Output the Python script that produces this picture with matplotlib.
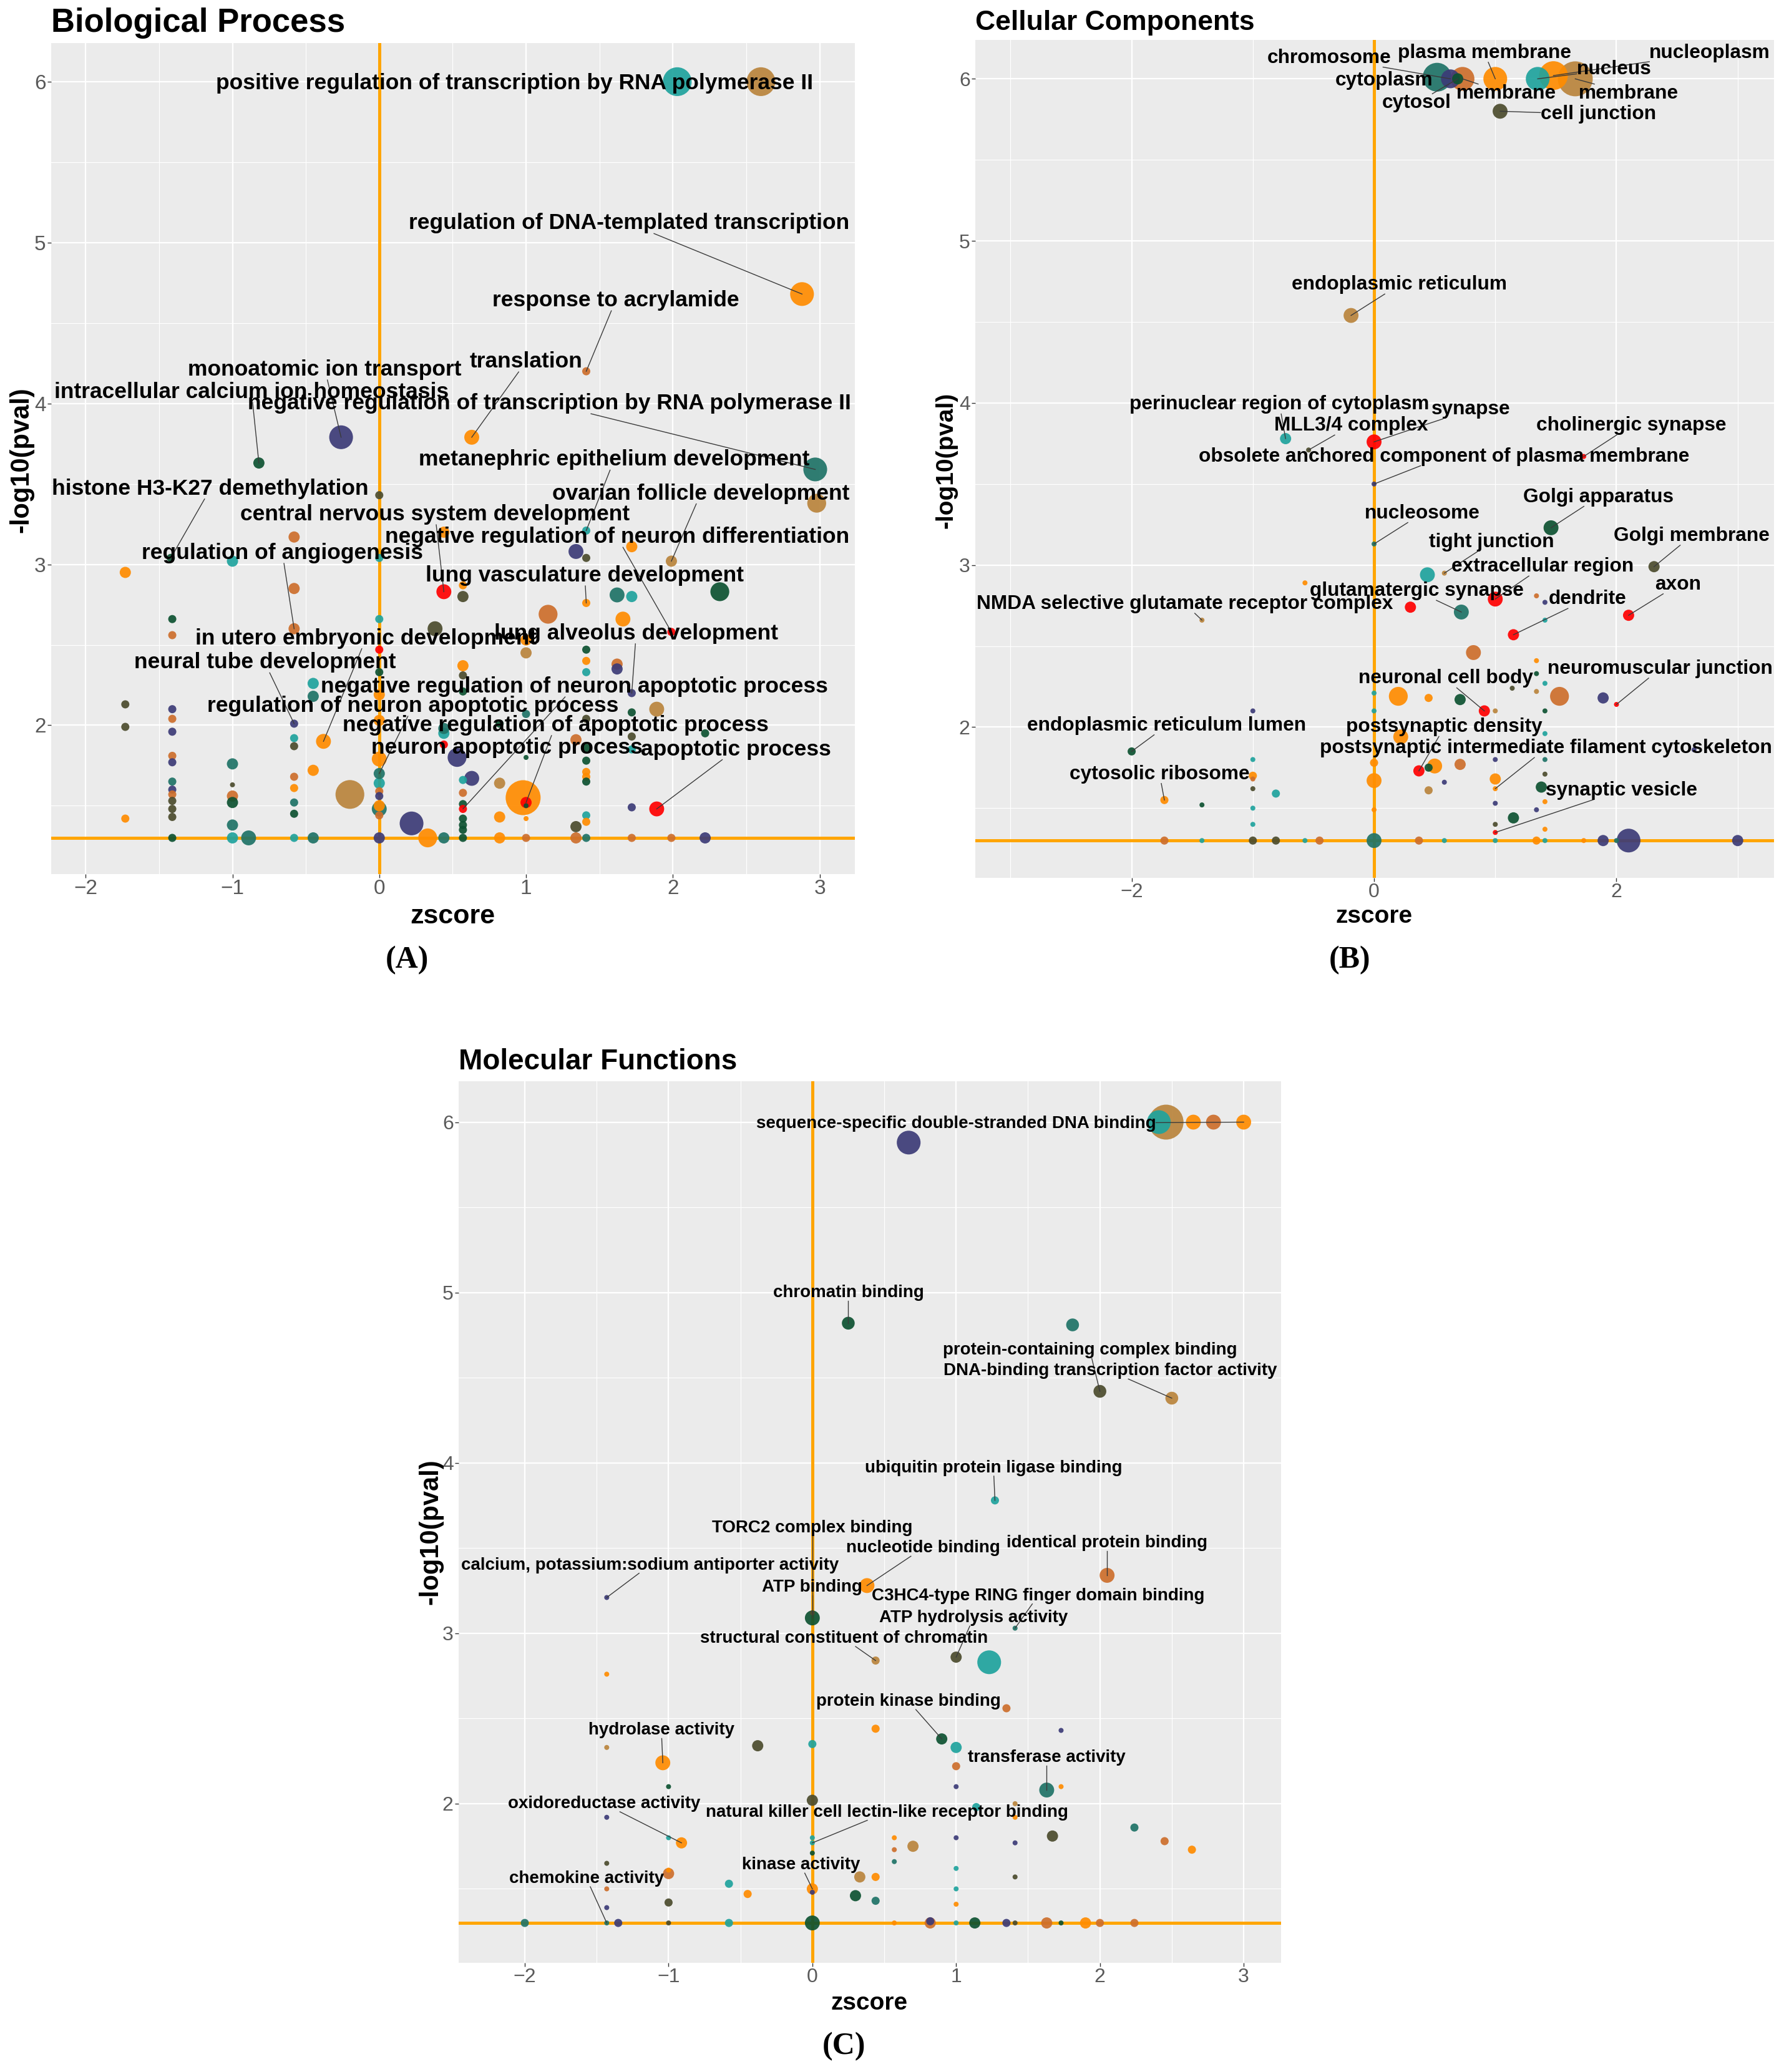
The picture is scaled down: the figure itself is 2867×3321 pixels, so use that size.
import matplotlib
matplotlib.use("Agg")
import matplotlib.pyplot as plt
from matplotlib.ticker import MultipleLocator
import numpy as np

plt.rcParams['font.family'] = ['Liberation Sans', 'DejaVu Sans']
plt.rcParams['axes.unicode_minus'] = True

W, H = 2867, 3321
DPI = 100

# colour keys used by the terms
palette = {'te': '#1FA39D', 'dt': '#1F7367', 'dg': '#0D5231', 'ol': '#4B4B2D',
           'nv': '#3C3B77', 'gd': '#B9843C', 'or': '#FF8C00', 'ch': '#CD6E2C',
           'rd': '#FF0000'}

# ---------------- (A) Biological Process ----------------
bp_terms = ["positive regulation of transcription by RNA polymerase II",
            "regulation of DNA-templated transcription",
            "response to acrylamide",
            "translation",
            "monoatomic ion transport",
            "intracellular calcium ion homeostasis",
            "negative regulation of transcription by RNA polymerase II",
            "metanephric epithelium development",
            "histone H3-K27 demethylation",
            "ovarian follicle development",
            "central nervous system development",
            "negative regulation of neuron differentiation",
            "regulation of angiogenesis",
            "lung vasculature development",
            "in utero embryonic development",
            "lung alveolus development",
            "neural tube development",
            "negative regulation of neuron apoptotic process",
            "regulation of neuron apoptotic process",
            "negative regulation of apoptotic process",
            "neuron apoptotic process",
            "apoptotic process"]
bp_term_z = [2.03, 2.88, 1.41, 0.63, -0.26, -0.82, 2.97, 1.41, -1.42, 1.99, 0.44,
             1.99, -0.58, 1.41, -0.38, 1.72, -0.58, 0.57, 0.00, 1.00, 0.44, 1.89]
bp_term_p = [6.00, 4.68, 4.20, 3.79, 3.79, 3.63, 3.59, 3.21, 3.04, 3.02, 2.83,
             2.58, 2.60, 2.76, 1.90, 2.20, 2.01, 1.48, 1.70, 1.52, 1.88, 1.48]
bp_term_n = [43, 29, 3, 11, 29, 6, 29, 3, 3, 6, 11, 3, 6, 3, 11, 3, 3, 3, 6, 6, 3, 11]
bp_term_col = ['te', 'or', 'ch', 'or', 'nv', 'dg', 'dt', 'te', 'dg', 'gd', 'rd',
               'rd', 'ch', 'or', 'or', 'nv', 'nv', 'rd', 'dt', 'rd', 'rd', 'rd']
# label placement (text centre, data coords)
bp_text_pos = [(0.92, 5.99), (1.70, 5.12), (1.61, 4.64), (1.00, 4.26), (-0.37, 4.21),
               (-0.87, 4.07), (1.16, 4.00), (1.60, 3.65), (-1.15, 3.47), (2.19, 3.44),
               (0.38, 3.31), (1.62, 3.17), (-0.66, 3.07), (1.40, 2.93), (-0.09, 2.54),
               (1.75, 2.57), (-0.78, 2.39), (1.33, 2.24), (0.23, 2.12), (1.20, 2.00),
               (0.87, 1.86), (2.43, 1.85)]

bp_z = [2.60, 0.00, 2.98, -0.58, 0.44, 1.34, 1.41, 1.72, -1.00, -1.73,
        0.00, -0.58, 0.57, 0.57, 1.62, 1.72, 2.32, 1.15, 1.66, -1.41,
        0.00, 0.38, -1.41, 1.00, 0.00, 1.41, 1.00, 0.57, 1.41, 1.62,
        1.62, 1.41, 0.57, 0.00, -0.45, -0.45, 0.57, 1.89, 1.72, -1.73,
        -1.73, -1.41, -1.41, -1.41, -1.41, -1.41, -1.41, -1.41, -1.41, -1.41,
        -1.41, -1.41, -1.41, -1.00, -1.00, -1.00, -1.00, -1.00, -1.00, -0.89,
        -0.58, -0.58, -0.58, -0.58, -0.58, -0.58, -0.58, -0.45, -0.20, -0.45,
        0.00, 0.00, 0.00, 0.00, 0.00, 0.00, 0.00, 0.00, 0.00, 0.00,
        0.22, 0.33, 0.44, 0.44, 0.44, 0.53, 0.63, 0.57, 0.57, 0.57,
        0.57, 0.57, 0.57, 0.57, 0.82, 0.82, 0.82, 0.82, 0.98, 1.00,
        1.00, 1.00, 1.00, 1.00, 1.34, 1.34, 1.34, 1.41, 1.41, 1.41,
        1.41, 1.41, 1.41, 1.41, 1.41, 1.41, 1.72, 1.72, 1.72, 2.22,
        1.72, 1.99, 2.22, -1.73]
bp_p = [6.00, 3.43, 3.38, 3.17, 3.20, 3.08, 3.04, 3.11, 3.02, 2.95,
        3.04, 2.85, 2.87, 2.80, 2.81, 2.80, 2.83, 2.69, 2.66, 2.66,
        2.66, 2.60, 2.56, 2.53, 2.47, 2.47, 2.45, 2.37, 2.40, 2.38,
        2.35, 2.33, 2.31, 2.33, 2.26, 2.18, 2.21, 2.10, 2.08, 2.13,
        1.99, 2.10, 2.04, 1.96, 1.81, 1.77, 1.65, 1.60, 1.57, 1.53,
        1.48, 1.43, 1.30, 1.76, 1.63, 1.56, 1.52, 1.38, 1.30, 1.30,
        1.92, 1.87, 1.68, 1.61, 1.52, 1.45, 1.30, 1.72, 1.57, 1.30,
        2.19, 2.03, 1.79, 1.64, 1.59, 1.56, 1.50, 1.48, 1.44, 1.30,
        1.39, 1.30, 1.30, 1.95, 1.98, 1.80, 1.67, 1.66, 1.58, 1.51,
        1.42, 1.38, 1.35, 1.30, 1.64, 1.43, 1.30, 2.01, 1.55, 1.50,
        1.42, 1.30, 2.07, 1.80, 1.37, 1.30, 1.91, 1.86, 1.78, 1.71,
        1.68, 1.65, 1.44, 1.40, 1.30, 2.04, 1.49, 1.93, 1.85, 1.95,
        1.30, 1.30, 1.30, 1.42]
bp_n = [43, 3, 18, 6, 6, 11, 3, 6, 6, 6,
        3, 6, 3, 6, 11, 6, 18, 18, 11, 3,
        3, 11, 3, 6, 3, 3, 6, 6, 3, 6,
        6, 3, 3, 3, 6, 6, 3, 11, 3, 3,
        3, 3, 3, 3, 3, 3, 3, 3, 3, 3,
        3, 3, 3, 6, 1, 6, 6, 6, 6, 11,
        3, 3, 3, 3, 3, 3, 3, 6, 43, 6,
        6, 6, 11, 6, 3, 3, 6, 11, 3, 6,
        29, 18, 6, 6, 6, 18, 11, 3, 3, 3,
        3, 3, 3, 3, 6, 6, 6, 3, 64, 1,
        1, 3, 3, 1, 6, 6, 6, 3, 3, 3,
        3, 3, 3, 3, 3, 3, 3, 3, 3, 3,
        3, 3, 6, 3]
bp_col = ['gd', 'ol', 'gd', 'ch', 'or', 'nv', 'ol', 'or', 'te', 'or',
          'te', 'ch', 'or', 'ol', 'dt', 'te', 'dg', 'ch', 'or', 'dg',
          'te', 'ol', 'ch', 'or', 'rd', 'dg', 'gd', 'or', 'or', 'ch',
          'nv', 'te', 'ol', 'dg', 'te', 'dt', 'dg', 'gd', 'dg', 'ol',
          'ol', 'nv', 'ch', 'nv', 'ch', 'nv', 'dt', 'nv', 'ch', 'ol',
          'ol', 'ol', 'dg', 'dt', 'ol', 'ch', 'dg', 'dt', 'te', 'dt',
          'te', 'ol', 'ch', 'or', 'dt', 'dg', 'te', 'or', 'gd', 'dt',
          'or', 'or', 'or', 'te', 'ch', 'nv', 'or', 'dt', 'ch', 'nv',
          'nv', 'or', 'dt', 'te', 'dt', 'nv', 'nv', 'te', 'ch', 'dg',
          'dg', 'dg', 'dg', 'dg', 'gd', 'or', 'or', 'dg', 'or', 'dg',
          'or', 'ch', 'dt', 'dg', 'ol', 'ch', 'ch', 'dg', 'dg', 'or',
          'or', 'dg', 'te', 'or', 'dt', 'ol', 'nv', 'ol', 'te', 'dg',
          'ch', 'ch', 'nv', 'or']

# ---------------- (B) Cellular Components ----------------
cc_terms = ["chromosome", "plasma membrane", "nucleoplasm", "nucleus", "cytoplasm",
            "membrane", "membrane", "cytosol", "cell junction", "endoplasmic reticulum",
            "perinuclear region of cytoplasm", "synapse", "MLL3/4 complex",
            "obsolete anchored component of plasma membrane", "cholinergic synapse",
            "Golgi apparatus", "nucleosome", "tight junction", "Golgi membrane",
            "extracellular region", "glutamatergic synapse",
            "NMDA selective glutamate receptor complex", "dendrite", "axon",
            "neuromuscular junction", "neuronal cell body", "endoplasmic reticulum lumen",
            "postsynaptic density", "postsynaptic intermediate filament cytoskeleton",
            "cytosolic ribosome", "synaptic vesicle"]
cc_term_z = [0.63, 1.00, 1.48, 1.35, 0.52, 0.73, 1.66, 0.69, 1.04, -0.19,
             -0.73, 0.00, -0.54, 0.00, 1.73, 1.46, 0.00, 0.58, 2.31, 1.00,
             0.72, -1.42, 1.15, 2.10, 2.00, 0.91, -2.00, 0.37, 1.00, -1.73, 1.00]
cc_term_p = [6.00, 6.00, 6.02, 6.00, 6.01, 6.00, 6.00, 6.00, 5.80, 4.54,
             3.78, 3.76, 3.71, 3.50, 3.67, 3.23, 3.13, 2.95, 2.99, 2.79,
             2.71, 2.66, 2.57, 2.69, 2.14, 2.10, 1.85, 1.73, 1.62, 1.55, 1.35]
cc_term_n = [18, 29, 43, 29, 43, 29, 64, 6, 11, 11,
             6, 11, 1, 1, 1, 11, 1, 1, 6, 11,
             11, 1, 6, 6, 1, 6, 3, 6, 1, 3, 1]
cc_term_col = ['nv', 'or', 'or', 'te', 'dt', 'ch', 'gd', 'dg', 'ol', 'gd',
               'te', 'rd', 'ol', 'nv', 'rd', 'dg', 'dt', 'gd', 'ol', 'rd',
               'dt', 'gd', 'rd', 'rd', 'rd', 'rd', 'dg', 'rd', 'or', 'or', 'rd']
cc_text_pos = [(-0.37, 6.13), (0.91, 6.16), (2.77, 6.16), (1.98, 6.06), (0.08, 5.99),
               (1.09, 5.91), (2.10, 5.91), (0.35, 5.85), (1.85, 5.78), (0.21, 4.73),
               (-0.78, 3.99), (0.80, 3.96), (-0.19, 3.86), (0.58, 3.67), (2.12, 3.86),
               (1.85, 3.42), (0.40, 3.32), (0.97, 3.14), (2.62, 3.18), (1.39, 2.99),
               (0.35, 2.84), (-1.56, 2.76), (1.76, 2.79), (2.51, 2.88), (2.36, 2.36),
               (0.59, 2.30), (-1.71, 2.01), (0.58, 2.00), (1.42, 1.87), (-1.77, 1.71),
               (2.04, 1.61)]

cc_z = [-0.57, 0.44, 1.34, 1.41, 0.30, 1.41, 0.82, 1.34, 1.34, 1.41,
        1.14, 1.34, 0.20, 0.45, 0.71, 1.53, 1.89, 0.00, 0.00, 1.00,
        1.41, -1.00, 0.22, 1.41, 2.64, -1.00, 0.00, 1.00, 1.41, 0.71,
        0.50, 0.45, -1.00, -1.00, 0.00, 1.00, 1.41, 0.58, -1.00, 1.38,
        -0.81, 0.45, -1.42, 1.41, 1.00, -1.00, 0.00, 1.34, 1.15, -1.00,
        1.00, 1.41,
        -1.73, -1.42, -1.00, -0.81, -0.57, -0.45, 0.00, 0.37, 0.58, 1.00,
        1.34, 1.41, 1.73, 1.89, 2.00, 2.10, 3.00]
cc_p = [2.89, 2.94, 2.81, 2.77, 2.74, 2.66, 2.46, 2.41, 2.33, 2.27,
        2.24, 2.22, 2.19, 2.18, 2.17, 2.19, 2.18, 2.21, 2.10, 2.10,
        2.10, 2.10, 1.94, 1.96, 1.86, 1.80, 1.78, 1.80, 1.80, 1.77,
        1.76, 1.75, 1.70, 1.68, 1.67, 1.68, 1.71, 1.66, 1.62, 1.63,
        1.59, 1.61, 1.52, 1.54, 1.53, 1.50, 1.49, 1.49, 1.44, 1.40,
        1.40, 1.37,
        1.30, 1.30, 1.30, 1.30, 1.30, 1.30, 1.30, 1.30, 1.30, 1.30,
        1.30, 1.30, 1.30, 1.30, 1.30, 1.30, 1.30]
cc_n = [1, 11, 1, 1, 6, 1, 11, 1, 1, 1,
        1, 1, 18, 3, 6, 18, 6, 1, 1, 1,
        1, 1, 11, 1, 1, 1, 3, 1, 1, 6,
        11, 3, 3, 1, 11, 6, 1, 1, 1, 6,
        3, 3, 1, 1, 1, 1, 1, 1, 6, 1,
        1, 1,
        3, 1, 3, 3, 1, 3, 11, 3, 1, 1,
        3, 1, 1, 6, 1, 29, 6]
cc_col = ['or', 'te', 'ch', 'nv', 'rd', 'te', 'ch', 'or', 'dg', 'te',
          'ol', 'gd', 'or', 'or', 'dg', 'ch', 'nv', 'te', 'te', 'gd',
          'dg', 'nv', 'or', 'te', 'nv', 'te', 'or', 'nv', 'dt', 'ch',
          'or', 'dg', 'or', 'ch', 'or', 'or', 'ol', 'nv', 'ol', 'dg',
          'te', 'gd', 'dg', 'or', 'nv', 'te', 'or', 'nv', 'dg', 'te',
          'ol', 'or',
          'ch', 'te', 'ol', 'ol', 'te', 'ch', 'dt', 'ch', 'te', 'te',
          'or', 'te', 'or', 'nv', 'dt', 'nv', 'nv']

# ---------------- (C) Molecular Functions ----------------
mf_terms = ["sequence-specific double-stranded DNA binding", "chromatin binding",
            "protein-containing complex binding",
            "DNA-binding transcription factor activity",
            "ubiquitin protein ligase binding", "TORC2 complex binding",
            "nucleotide binding", "identical protein binding",
            "calcium, potassium:sodium antiporter activity", "ATP binding",
            "C3HC4-type RING finger domain binding", "ATP hydrolysis activity",
            "structural constituent of chromatin", "protein kinase binding",
            "hydrolase activity", "transferase activity", "oxidoreductase activity",
            "natural killer cell lectin-like receptor binding", "kinase activity",
            "chemokine activity"]
mf_term_z = [3.00, 0.25, 2.00, 2.50, 1.27, 0.00, 0.38, 2.05, -1.43, 0.00,
             1.41, 1.00, 0.44, 0.90, -1.04, 1.63, -0.91, 0.00, 0.00, -1.43]
mf_term_p = [6.00, 4.82, 4.42, 4.38, 3.78, 3.12, 3.28, 3.34, 3.21, 3.09,
             3.03, 2.86, 2.84, 2.38, 2.24, 2.08, 1.77, 1.77, 1.50, 1.30]
mf_term_n = [11, 8, 8, 8, 3, 1, 11, 11, 1, 11,
             1, 6, 3, 6, 11, 11, 6, 1, 6, 1]
mf_term_col = ['or', 'dg', 'ol', 'gd', 'te', 'ol', 'or', 'ch', 'nv', 'dg',
               'dt', 'ol', 'gd', 'dg', 'or', 'dt', 'or', 'te', 'or', 'dt']
mf_text_pos = [(1.00, 5.99), (0.25, 5.00), (1.93, 4.66), (2.07, 4.54), (1.26, 3.97),
               (0.00, 3.62), (0.77, 3.50), (2.05, 3.53), (-1.13, 3.40), (0.00, 3.27),
               (1.57, 3.22), (1.12, 3.09), (0.22, 2.97), (0.67, 2.60), (-1.05, 2.43),
               (1.63, 2.27), (-1.45, 2.00), (0.52, 1.95), (-0.08, 1.64), (-1.57, 1.56)]

mf_z = [2.41, 2.46, 2.65, 2.79, 0.67, 1.81, 1.23, -1.43, 1.35, 0.44,
        1.73, -0.38, 0.00, 1.00, -1.43, 1.00, -1.00, 1.00, 1.73, 0.00,
        1.41, 1.14, -1.43, 1.41, 2.24, 1.67, -1.00, 0.00, 0.57, 1.00,
        0.70, 1.41, 2.45, 2.64, 0.57, 0.57, 0.00, -1.43, 1.00, -1.00,
        -1.00, 1.41, 0.33, 0.44, -0.58, -0.45, -1.43, 0.00, 1.00, 0.30,
        0.44, -1.00, -1.43, 1.00,
        -2.00, -1.35, -1.00, -0.58, 0.00, 0.57, 0.82, 0.82, 1.00, 1.13,
        1.35, 1.41, 1.63, 1.73, 1.90, 2.00, 2.24]
mf_p = [6.00, 6.00, 6.00, 6.00, 5.88, 4.81, 2.83, 2.76, 2.56, 2.44,
        2.43, 2.34, 2.35, 2.33, 2.33, 2.22, 2.10, 2.10, 2.10, 2.02,
        2.00, 1.98, 1.92, 1.92, 1.86, 1.81, 1.80, 1.80, 1.80, 1.80,
        1.75, 1.77, 1.78, 1.73, 1.73, 1.66, 1.71, 1.65, 1.62, 1.59,
        1.61, 1.57, 1.57, 1.57, 1.53, 1.47, 1.50, 1.48, 1.50, 1.46,
        1.43, 1.42, 1.39, 1.41,
        1.30, 1.30, 1.30, 1.30, 1.30, 1.30, 1.30, 1.31, 1.30, 1.30,
        1.30, 1.30, 1.30, 1.30, 1.30, 1.30, 1.30]
mf_n = [29, 64, 11, 11, 29, 8, 29, 1, 3, 3,
        1, 6, 3, 6, 1, 3, 1, 1, 1, 6,
        1, 3, 1, 1, 3, 6, 1, 1, 1, 1,
        6, 1, 3, 3, 1, 1, 1, 1, 1, 6,
        1, 1, 6, 3, 3, 3, 1, 1, 1, 6,
        3, 3, 1, 1,
        3, 3, 1, 3, 11, 1, 6, 3, 1, 6,
        3, 1, 6, 1, 6, 3, 3]
mf_col = ['te', 'gd', 'or', 'ch', 'nv', 'dt', 'te', 'or', 'ch', 'or',
          'nv', 'ol', 'te', 'te', 'gd', 'ch', 'dg', 'nv', 'or', 'ol',
          'gd', 'te', 'nv', 'or', 'dt', 'ol', 'te', 'te', 'or', 'nv',
          'gd', 'nv', 'ch', 'or', 'ch', 'dt', 'dg', 'ol', 'te', 'ch',
          'or', 'ol', 'gd', 'or', 'te', 'or', 'ch', 'nv', 'te', 'dg',
          'dt', 'ol', 'nv', 'or',
          'dt', 'nv', 'ol', 'te', 'dg', 'or', 'ch', 'nv', 'te', 'dg',
          'nv', 'ol', 'ch', 'dg', 'or', 'ch', 'ch']


def diam_px(n):
    # area-style size scale, 1 gene -> 8 px, 64 genes -> 56 px
    return 8 + 48 * (np.sqrt(np.asarray(n, float)) - 1) / 7


fig = plt.figure(figsize=(W / DPI, H / DPI), dpi=DPI)


def px_axes(left, top, right, bottom):
    return fig.add_axes([left / W, 1 - bottom / H, (right - left) / W, (bottom - top) / H])


def setup(ax, xlim, ylim, xmajor, tick_fs):
    ax.set_facecolor('#EBEBEB')
    for s in ax.spines.values():
        s.set_visible(False)
    ax.set_xlim(*xlim)
    ax.set_ylim(*ylim)
    ax.xaxis.set_major_locator(MultipleLocator(xmajor))
    ax.xaxis.set_minor_locator(MultipleLocator(xmajor / 2))
    ax.yaxis.set_major_locator(MultipleLocator(1))
    ax.yaxis.set_minor_locator(MultipleLocator(0.5))
    ax.grid(which='major', color='white', lw=1.6)
    ax.grid(which='minor', color='white', lw=0.8)
    ax.set_axisbelow(True)
    ax.tick_params(which='major', length=4, width=1, color='#333333',
                   labelsize=tick_fs, labelcolor='#5A5A5A', pad=2)
    ax.tick_params(which='minor', length=0)
    ax.axvline(0, color='#FFA500', lw=3.6, zorder=1.5)
    ax.axhline(-np.log10(0.05), color='#FFA500', lw=3.6, zorder=1.5)


def draw_points(ax, z, p, n, col):
    z = np.asarray(z); p = np.asarray(p); d = diam_px(n)
    c = np.array([palette[k] for k in col])
    order = np.argsort(-d, kind='stable')
    ax.scatter(z[order], p[order], s=(d[order] * 72 / DPI) ** 2, c=c[order],
               alpha=0.92, linewidths=0, zorder=3)


def draw_labels(ax, terms, tz, tp, pos, fs):
    texts = []
    for term, (x, y) in zip(terms, pos):
        texts.append(ax.text(x, y, term, ha='center', va='center', fontsize=fs,
                             fontweight='bold', color='black', zorder=6))
    return list(zip(texts, tz, tp))


def draw_segments(ax, items, renderer):
    inv = ax.transData.inverted()
    for t, z, p in items:
        bb = t.get_window_extent(renderer)
        cx, cy = (bb.x0 + bb.x1) / 2, (bb.y0 + bb.y1) / 2
        px, py = ax.transData.transform((z, p))
        dx, dy = px - cx, py - cy
        hw, hh = bb.width / 2, bb.height / 2
        if abs(dx) <= hw and abs(dy) <= hh:
            continue
        s = min(hw / abs(dx) if dx else np.inf, hh / abs(dy) if dy else np.inf)
        sx, sy = cx + s * dx, cy + s * dy
        if np.hypot(px - sx, py - sy) < 10:
            continue
        (x0, y0), (x1, y1) = inv.transform([(sx, sy), (px, py)])
        ax.plot([x0, x1], [y0, y1], color='#3A3A3A', lw=1.0, zorder=5)


panels = []

axA = px_axes(82, 69, 1370, 1401)
setup(axA, (-2.235, 3.24), (1.075, 6.24), 1, 24)
draw_points(axA, bp_z + bp_term_z, bp_p + bp_term_p, bp_n + bp_term_n, bp_col + bp_term_col)
panels.append((axA, draw_labels(axA, bp_terms, bp_term_z, bp_term_p, bp_text_pos, 25.5)))

axB = px_axes(1563, 64, 2843, 1407)
setup(axB, (-3.29, 3.30), (1.07, 6.24), 2, 23)
draw_points(axB, cc_z + cc_term_z, cc_p + cc_term_p, cc_n + cc_term_n, cc_col + cc_term_col)
panels.append((axB, draw_labels(axB, cc_terms, cc_term_z, cc_term_p, cc_text_pos, 22.8)))

axC = px_axes(735, 1733, 2053, 3146)
setup(axC, (-2.46, 3.26), (1.066, 6.24), 1, 23)
draw_points(axC, mf_z + mf_term_z, mf_p + mf_term_p, mf_n + mf_term_n, mf_col + mf_term_col)
panels.append((axC, draw_labels(axC, mf_terms, mf_term_z, mf_term_p, mf_text_pos, 20)))

fig.canvas.draw()
renderer = fig.canvas.get_renderer()
for ax, items in panels:
    draw_segments(ax, items, renderer)


def ftext(x, y, s, **kw):
    fig.text(x / W, 1 - y / H, s, **kw)


# titles
ftext(82, 51, 'Biological Process', fontsize=38, fontweight='bold', va='baseline')
ftext(1563, 48, 'Cellular Components', fontsize=32, fontweight='bold', va='baseline')
ftext(735, 1714, 'Molecular Functions', fontsize=33, fontweight='bold', va='baseline')

# axis titles
ftext(725, 1469, 'zscore', fontsize=31, fontweight='bold', ha='center', va='center')
ftext(2202, 1469, 'zscore', fontsize=28, fontweight='bold', ha='center', va='center')
ftext(1393, 3211, 'zscore', fontsize=28, fontweight='bold', ha='center', va='center')
ftext(34, 737, '-log10(pval)', fontsize=30, fontweight='bold', rotation=90, ha='center', va='center')
ftext(1517, 738, '-log10(pval)', fontsize=28, fontweight='bold', rotation=90, ha='center', va='center')
ftext(690, 2455, '-log10(pval)', fontsize=30, fontweight='bold', rotation=90, ha='center', va='center')

# panel letters
for (x, y), s in zip([(652, 1539), (2163, 1539), (1353, 3280)], ['(A)', '(B)', '(C)']):
    ftext(x, y, s, fontsize=36, fontweight='bold', ha='center', va='center',
          family=['Liberation Serif', 'DejaVu Serif'])

fig.savefig('out.png', dpi=DPI, facecolor='white')
